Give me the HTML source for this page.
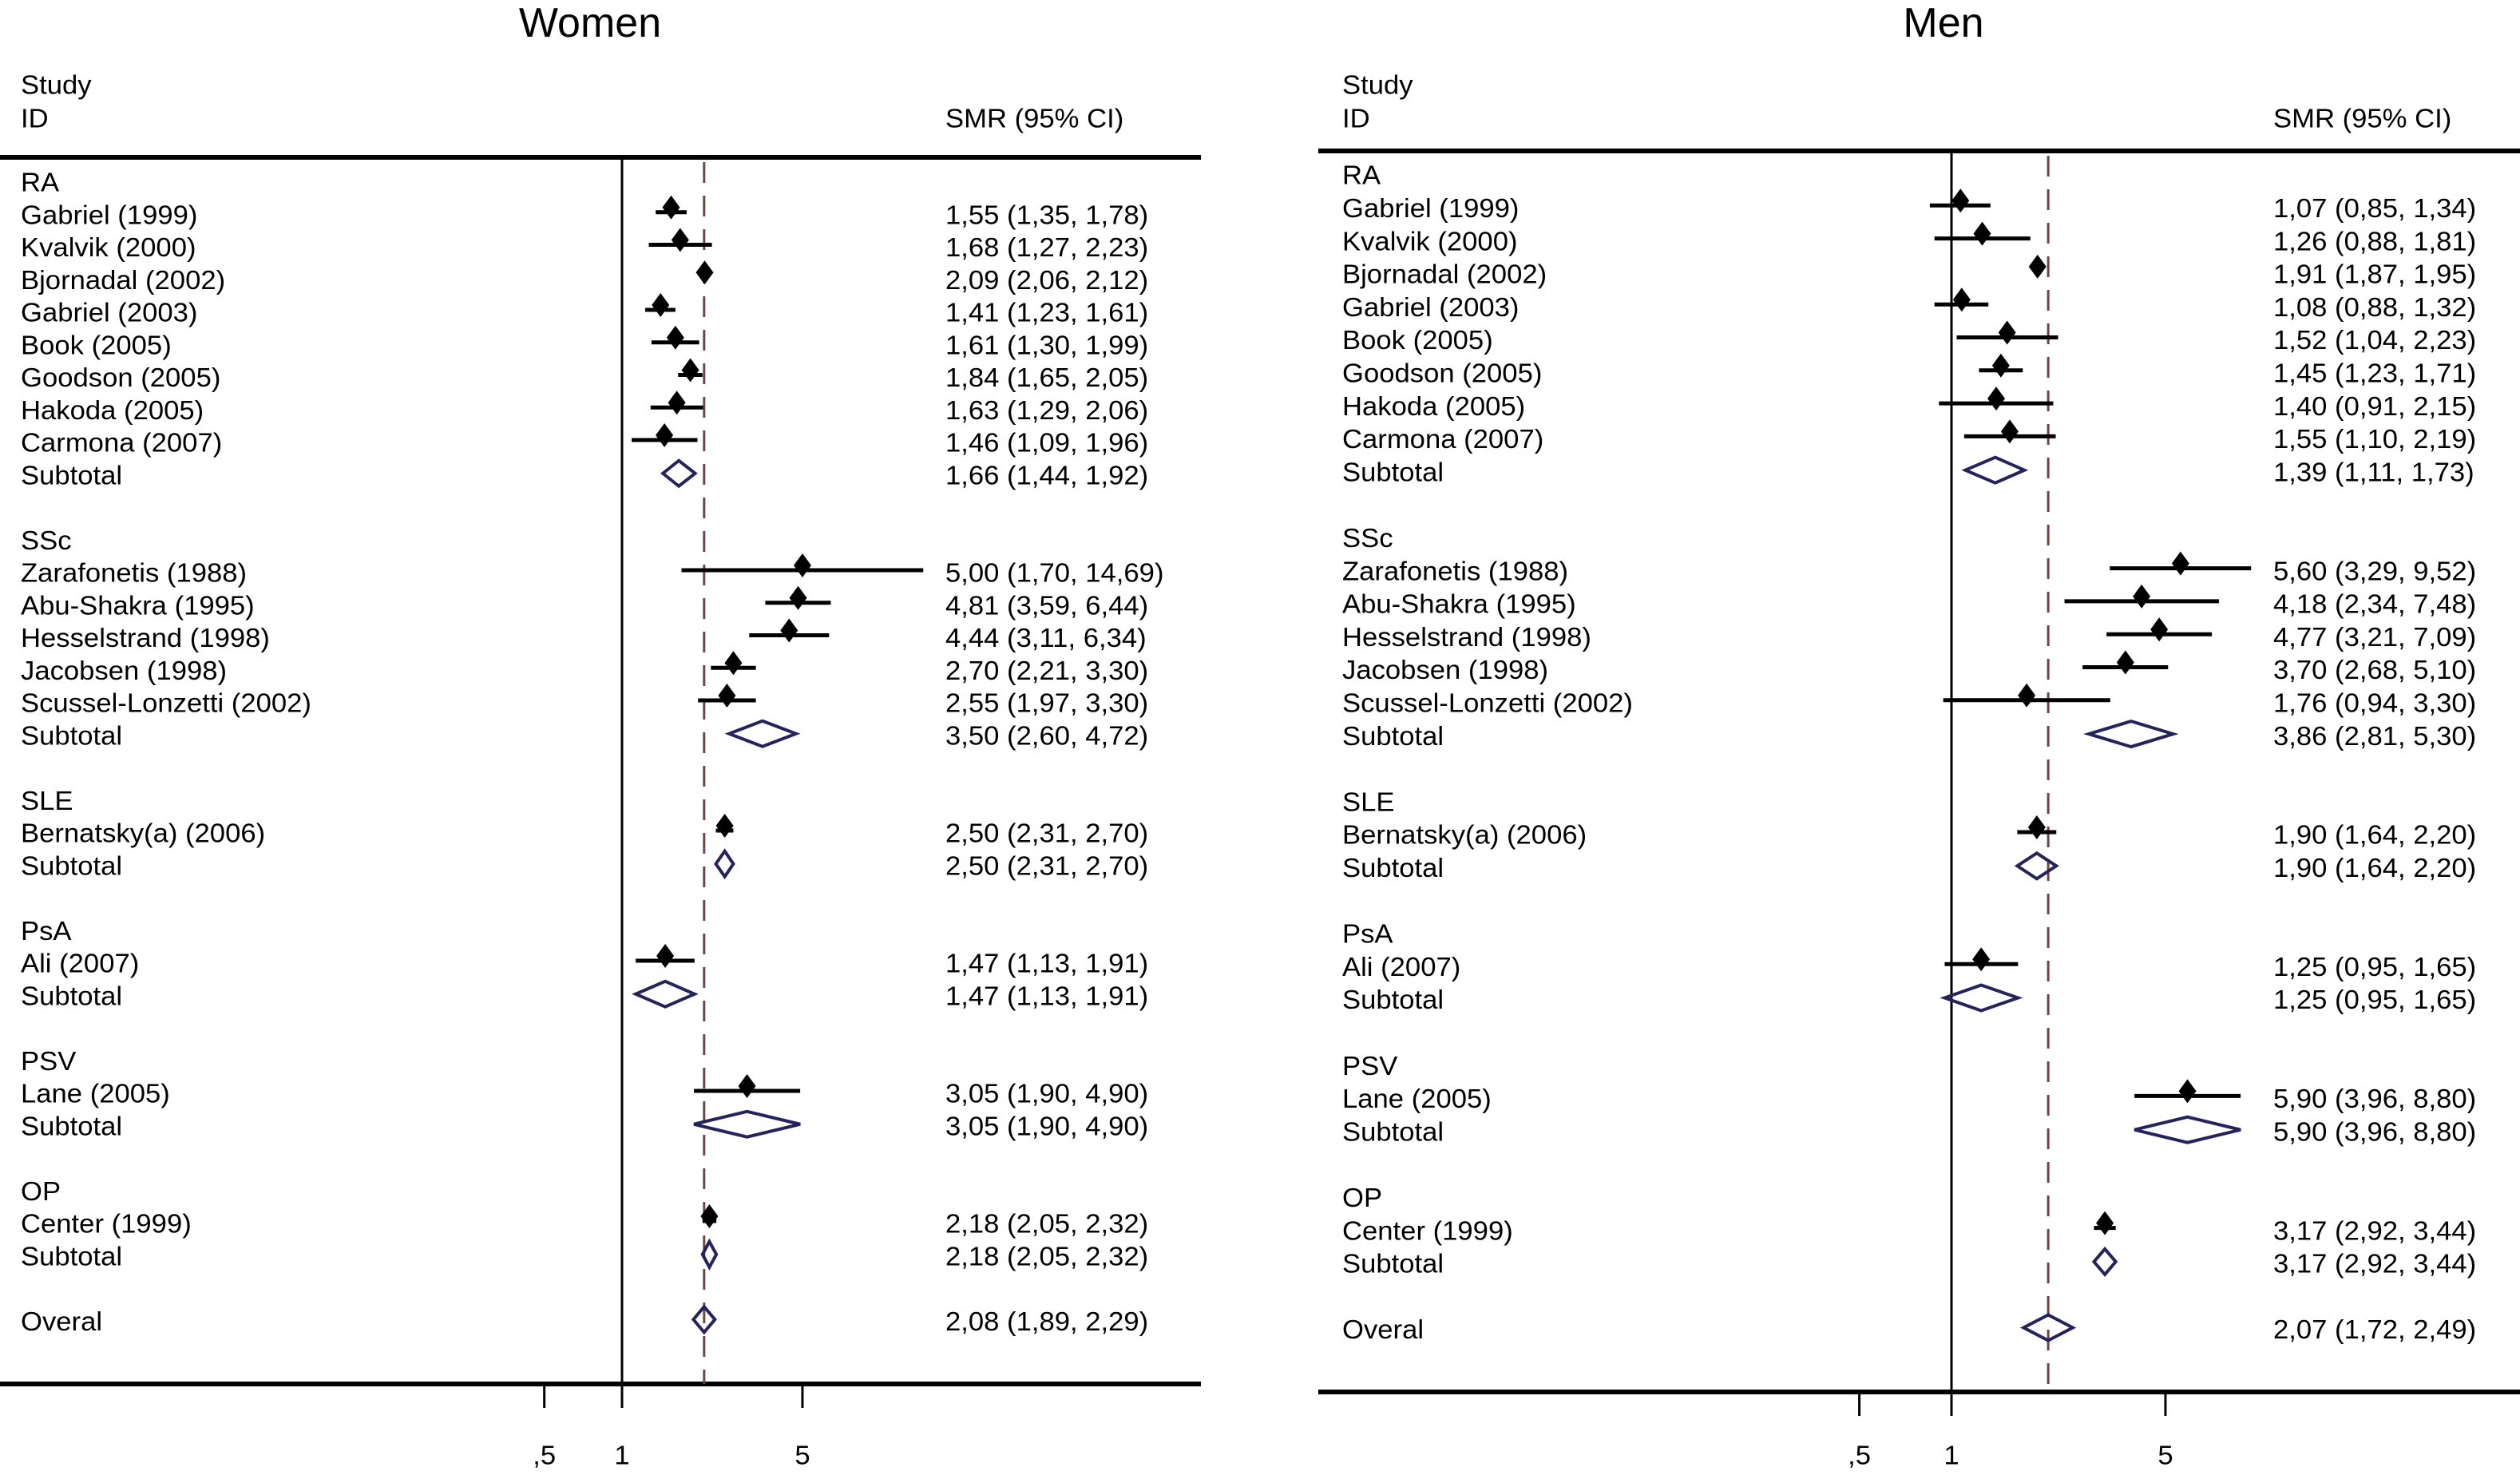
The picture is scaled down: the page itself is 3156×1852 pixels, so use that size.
<!DOCTYPE html>
<html><head><meta charset="utf-8">
<style>
html,body{margin:0;padding:0;background:#fff;}
svg{display:block;font-family:"Liberation Sans",sans-serif;}
</style></head>
<body>
<svg id="chart" width="3156" height="1852" viewBox="0 0 3156 1852" xmlns="http://www.w3.org/2000/svg"></svg>
<script>
// ---- data ----
const rowLabels = ["RA","Gabriel (1999)","Kvalvik (2000)","Bjornadal (2002)","Gabriel (2003)","Book (2005)","Goodson (2005)","Hakoda (2005)","Carmona (2007)","Subtotal","",
 "SSc","Zarafonetis (1988)","Abu-Shakra (1995)","Hesselstrand (1998)","Jacobsen (1998)","Scussel-Lonzetti (2002)","Subtotal","",
 "SLE","Bernatsky(a) (2006)","Subtotal","",
 "PsA","Ali (2007)","Subtotal","",
 "PSV","Lane (2005)","Subtotal","",
 "OP","Center (1999)","Subtotal","",
 "Overal"];
const rowTypes = ["h","s","s","s","s","s","s","s","s","d","",
 "h","s","s","s","s","s","d","",
 "h","s","d","",
 "h","s","d","",
 "h","s","d","",
 "h","s","d","",
 "d"];
const womenSMR = [null,1.55,1.68,2.09,1.41,1.61,1.84,1.63,1.46,1.66,null,null,5.00,4.81,4.44,2.70,2.55,3.50,null,null,2.50,2.50,null,null,1.47,1.47,null,null,3.05,3.05,null,null,2.18,2.18,null,2.08];
const womenLo  = [null,1.35,1.27,2.06,1.23,1.30,1.65,1.29,1.09,1.44,null,null,1.70,3.59,3.11,2.21,1.97,2.60,null,null,2.31,2.31,null,null,1.13,1.13,null,null,1.90,1.90,null,null,2.05,2.05,null,1.89];
const womenHi  = [null,1.78,2.23,2.12,1.61,1.99,2.05,2.06,1.96,1.92,null,null,14.69,6.44,6.34,3.30,3.30,4.72,null,null,2.70,2.70,null,null,1.91,1.91,null,null,4.90,4.90,null,null,2.32,2.32,null,2.29];
const menSMR = [null,1.07,1.26,1.91,1.08,1.52,1.45,1.40,1.55,1.39,null,null,5.60,4.18,4.77,3.70,1.76,3.86,null,null,1.90,1.90,null,null,1.25,1.25,null,null,5.90,5.90,null,null,3.17,3.17,null,2.07];
const menLo  = [null,0.85,0.88,1.87,0.88,1.04,1.23,0.91,1.10,1.11,null,null,3.29,2.34,3.21,2.68,0.94,2.81,null,null,1.64,1.64,null,null,0.95,0.95,null,null,3.96,3.96,null,null,2.92,2.92,null,1.72];
const menHi  = [null,1.34,1.81,1.95,1.32,2.23,1.71,2.15,2.19,1.73,null,null,9.52,7.48,7.09,5.10,3.30,5.30,null,null,2.20,2.20,null,null,1.65,1.65,null,null,8.80,8.80,null,null,3.44,3.44,null,2.49];
const tickValues = [0.5,1,5];
const tickLabels = [",5","1","5"];

const NS = "http://www.w3.org/2000/svg";
const svg = document.getElementById("chart");
function mk(tag, attrs, parent){
  const e = document.createElementNS(NS, tag);
  for (const k in attrs) e.setAttribute(k, attrs[k]);
  (parent||svg).appendChild(e);
  return e;
}
function txt(parent, x, y, s, size, anchor, sx){
  const t = mk("text", {transform:`translate(${x},${y}) scale(${sx||1.05},1)`, "font-size":size, "dominant-baseline":"central", "text-anchor":anchor||"start", fill:"#000"}, parent);
  t.textContent = s;
  return t;
}
function fmt(v){ return v.toFixed(2).replace(".", ","); }

function panel(cfg){
  const g = mk("g", {});
  
  
  const X = v => cfg.x1 + cfg.k * Math.log(v);
  const Y = i => cfg.y0 + cfg.dy * i;
  const tt = txt(g, cfg.titleX, 29, cfg.title, 52, "middle", 1.0);
  
  
  const h1 = txt(g, cfg.textX, 107, "Study", 33);
  
  
  const h2 = txt(g, cfg.textX, 149, "ID", 33);
  
  
  const h3 = txt(g, cfg.valX, 149, "SMR (95% CI)", 33);
  
  
  const top = mk("line", {x1:cfg.left, x2:cfg.right, y1:cfg.topY, y2:cfg.topY, stroke:"#000", "stroke-width":6}, g);
  
  
  const bot = mk("line", {x1:cfg.left, x2:cfg.right, y1:cfg.botY, y2:cfg.botY, stroke:"#000", "stroke-width":6}, g);
  
  
  const ref = mk("line", {x1:X(1), x2:X(1), y1:cfg.topY, y2:cfg.botY, stroke:"#000", "stroke-width":3}, g);
  
  
  const ov = cfg.smr[35];
  const dl = mk("line", {x1:X(ov), x2:X(ov), y1:cfg.topY+6, y2:cfg.botY, stroke:"#6e4646", "stroke-width":3, "stroke-dasharray":"26 16"}, g);
  
  
  tickValues.forEach((tv, j) => {
    const tk = mk("line", {x1:X(tv), x2:X(tv), y1:cfg.botY, y2:cfg.botY+30, stroke:"#000", "stroke-width":3}, g);
    
    
    const tl = txt(g, X(tv), 1823, tickLabels[j], 33, "middle");
    
    
  });
  rowLabels.forEach((lab, i) => {
    const y = Y(i);
    const ty = rowTypes[i];
    if (!ty) return;
    const lt = txt(g, cfg.textX, y, lab, 33);
    
    
    if (ty === "h") return;
    const v = cfg.smr[i], lo = cfg.lo[i], hi = cfg.hi[i];
    const vt = txt(g, cfg.valX, y, `${fmt(v)} (${fmt(lo)}, ${fmt(hi)})`, 33);
    
    
    if (ty === "s") {
      const capped = hi > cfg.maxV;
      const xh = capped ? X(cfg.maxV) : X(hi);
      const ci = mk("line", {x1:X(lo), x2:xh, y1:y-4, y2:y-4, stroke:"#000", "stroke-width":5}, g);
      
      
      if (capped) {
        const ar = mk("polygon", {points:`${xh-16},${y-4-14} ${xh+4},${y-4} ${xh-16},${y-4+14}`, fill:"#000"}, g);
        
        
      }
      const cx = X(v), cy = y-10;
      const pt = mk("polygon", {points:`${cx},${cy-15} ${cx+11},${cy} ${cx},${cy+15} ${cx-11},${cy}`, fill:"#000"}, g);
      
      
    } else {
      const cy = y-3;
      const dm = mk("polygon", {points:`${X(lo)},${cy} ${X(v)},${cy-16} ${X(hi)},${cy} ${X(v)},${cy+16}`, fill:"none", stroke:"#25235c", "stroke-width":4}, g);
      
      
    }
  });
}

panel({name:"women-panel", title:"Women", titleX:739, left:0, right:1504, topY:197, botY:1733,
  x1:779, k:140.4, y0:229, dy:40.75, textX:26, valX:1184, maxV:15,
  smr:womenSMR, lo:womenLo, hi:womenHi});
panel({name:"men-panel", title:"Men", titleX:2434, left:1651, right:3156, topY:189, botY:1743,
  x1:2444, k:166.5, y0:220, dy:41.3, textX:1681, valX:2847, maxV:20,
  smr:menSMR, lo:menLo, hi:menHi});
</script>
</body></html>
